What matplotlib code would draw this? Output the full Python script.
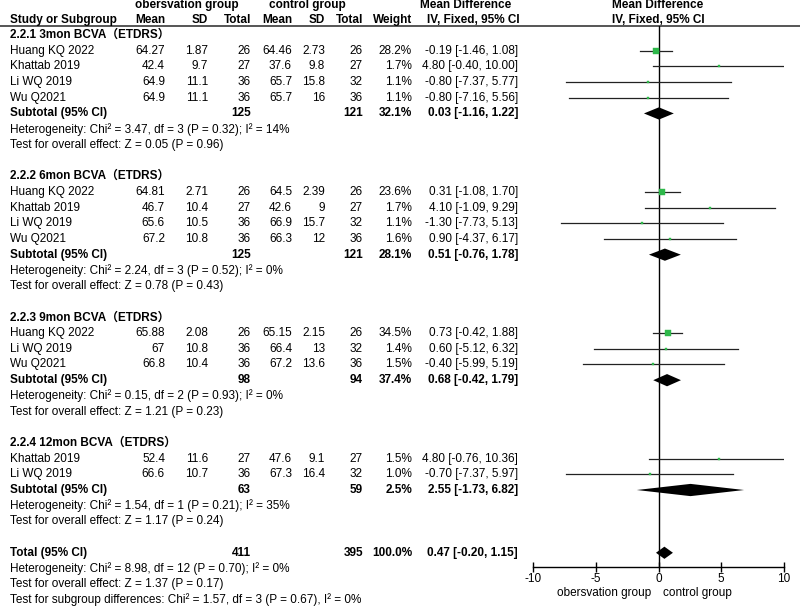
import matplotlib
matplotlib.use("Agg")
import matplotlib.pyplot as plt
from matplotlib.transforms import blended_transform_factory

plt.rcParams['font.family'] = ['Liberation Sans', 'Noto Sans CJK SC', 'DejaVu Sans']
plt.rcParams['font.size'] = 8.5

# ---- data ----
group_titles = ["2.2.1 3mon BCVA（ETDRS）", "2.2.2 6mon BCVA（ETDRS）",
                "2.2.3 9mon BCVA（ETDRS）", "2.2.4 12mon BCVA（ETDRS）"]
study_group = [0, 0, 0, 0, 1, 1, 1, 1, 2, 2, 2, 3, 3]
studies = ["Huang KQ 2022", "Khattab 2019", "Li WQ 2019", "Wu Q2021",
           "Huang KQ 2022", "Khattab 2019", "Li WQ 2019", "Wu Q2021",
           "Huang KQ 2022", "Li WQ 2019", "Wu Q2021",
           "Khattab 2019", "Li WQ 2019"]
obs_mean = [64.27, 42.4, 64.9, 64.9, 64.81, 46.7, 65.6, 67.2, 65.88, 67, 66.8, 52.4, 66.6]
obs_sd = [1.87, 9.7, 11.1, 11.1, 2.71, 10.4, 10.5, 10.8, 2.08, 10.8, 10.4, 11.6, 10.7]
obs_n = [26, 27, 36, 36, 26, 27, 36, 36, 26, 36, 36, 27, 36]
ctl_mean = [64.46, 37.6, 65.7, 65.7, 64.5, 42.6, 66.9, 66.3, 65.15, 66.4, 67.2, 47.6, 67.3]
ctl_sd = [2.73, 9.8, 15.8, 16, 2.39, 9, 15.7, 12, 2.15, 13, 13.6, 9.1, 16.4]
ctl_n = [26, 27, 32, 36, 26, 27, 32, 36, 26, 32, 36, 27, 32]
weight = [28.2, 1.7, 1.1, 1.1, 23.6, 1.7, 1.1, 1.6, 34.5, 1.4, 1.5, 1.5, 1.0]
md = [-0.19, 4.80, -0.80, -0.80, 0.31, 4.10, -1.30, 0.90, 0.73, 0.60, -0.40, 4.80, -0.70]
md_lo = [-1.46, -0.40, -7.37, -7.16, -1.08, -1.09, -7.73, -4.37, -0.42, -5.12, -5.99, -0.76, -7.37]
md_hi = [1.08, 10.00, 5.77, 5.56, 1.70, 9.29, 5.13, 6.17, 1.88, 6.32, 5.19, 10.36, 5.97]

sub_obs_n = [125, 125, 98, 63]
sub_ctl_n = [121, 121, 94, 59]
sub_weight = [32.1, 28.1, 37.4, 2.5]
sub_md = [0.03, 0.51, 0.68, 2.55]
sub_lo = [-1.16, -0.76, -0.42, -1.73]
sub_hi = [1.22, 1.78, 1.79, 6.82]
sub_het = ["Heterogeneity: Chi² = 3.47, df = 3 (P = 0.32); I² = 14%",
           "Heterogeneity: Chi² = 2.24, df = 3 (P = 0.52); I² = 0%",
           "Heterogeneity: Chi² = 0.15, df = 2 (P = 0.93); I² = 0%",
           "Heterogeneity: Chi² = 1.54, df = 1 (P = 0.21); I² = 35%"]
sub_test = ["Test for overall effect: Z = 0.05 (P = 0.96)",
            "Test for overall effect: Z = 0.78 (P = 0.43)",
            "Test for overall effect: Z = 1.21 (P = 0.23)",
            "Test for overall effect: Z = 1.17 (P = 0.24)"]

total_obs_n, total_ctl_n, total_weight = 411, 395, 100.0
total_md, total_lo, total_hi = 0.47, -0.20, 1.15
total_notes = ["Heterogeneity: Chi² = 8.98, df = 12 (P = 0.70); I² = 0%",
               "Test for overall effect: Z = 1.37 (P = 0.17)",
               "Test for subgroup differences: Chi² = 1.57, df = 3 (P = 0.67), I² = 0%"]

# ---- layout (pixels of an 800x606 canvas) ----
W, H = 800, 606
ROW0, ROWH = 35.0, 15.69
GREEN = '#2eb84a'

fig = plt.figure(figsize=(8, 6.06), dpi=100)
ax_t = fig.add_axes([0, 0, 1, 1])
ax_t.set_xlim(0, W)
ax_t.set_ylim((H - ROW0) / ROWH, -ROW0 / ROWH)
ax_t.axis('off')

px_top, px_axis = 26, 567
ax = fig.add_axes([533 / W, (H - px_axis) / H, (784 - 533) / W, (px_axis - px_top) / H])
ax.set_xlim(-10, 10)
ax.set_ylim((px_axis - ROW0) / ROWH, (px_top - ROW0) / ROWH)
ax.patch.set_alpha(0)
for s in ['top', 'left', 'right']:
    ax.spines[s].set_visible(False)
ax.spines['bottom'].set_linewidth(1.0)
ax.set_yticks([])
ax.set_xticks([-10, -5, 0, 5, 10])
ax.set_xticklabels(['-10', '-5', '0', '5', '10'])
ax.tick_params(axis='x', direction='inout', length=7, width=1, pad=1, labelsize=8.5)
ax.axvline(0, color='black', lw=1.0, zorder=1)

# column right edges
col_mean1, col_sd1, col_n1 = 165, 208, 251
col_mean2, col_sd2, col_n2 = 292, 325, 363
col_w, col_ci = 412, 518
x_name = 10


def txt(x, r, s, ha='right', bold=False):
    ax_t.text(x, r, s, ha=ha, va='center', fontweight='bold' if bold else 'normal')


def diamond(r, est, lo, hi):
    h = 0.39
    ax.fill([lo, est, hi, est], [r, r - h, r, r + h], color='black', lw=0, zorder=3)


# header
hy1, hy2 = (5 - ROW0) / ROWH, (20 - ROW0) / ROWH
txt(187, hy1, "obersvation group", ha='center', bold=True)
txt(307, hy1, "control group", ha='center', bold=True)
txt(466, hy1, "Mean Difference", ha='center', bold=True)
txt(658, hy1, "Mean Difference", ha='center', bold=True)
txt(x_name, hy2, "Study or Subgroup", ha='left', bold=True)
for x, s in [(col_mean1, "Mean"), (col_sd1, "SD"), (col_n1, "Total"),
             (col_mean2, "Mean"), (col_sd2, "SD"), (col_n2, "Total"), (col_w, "Weight")]:
    txt(x, hy2, s, bold=True)
txt(473, hy2, "IV, Fixed, 95% CI", ha='center', bold=True)
txt(658, hy2, "IV, Fixed, 95% CI", ha='center', bold=True)
ax_t.axhline((px_top - ROW0) / ROWH, color='#555555', lw=1.4)

# body
row = 0
for g, title in enumerate(group_titles):
    txt(x_name, row, title, ha='left', bold=True)
    row += 1
    for i, sg in enumerate(study_group):
        if sg != g:
            continue
        txt(x_name, row, studies[i], ha='left')
        txt(col_mean1, row, f"{obs_mean[i]:g}")
        txt(col_sd1, row, f"{obs_sd[i]:g}")
        txt(col_n1, row, f"{obs_n[i]}")
        txt(col_mean2, row, f"{ctl_mean[i]:g}")
        txt(col_sd2, row, f"{ctl_sd[i]:g}")
        txt(col_n2, row, f"{ctl_n[i]}")
        txt(col_w, row, f"{weight[i]:.1f}%")
        txt(col_ci, row, f"{md[i]:.2f} [{md_lo[i]:.2f}, {md_hi[i]:.2f}]")
        ax.plot([md_lo[i], md_hi[i]], [row, row], color='#222222', lw=0.9, zorder=2)
        ms = max(0.81 * weight[i] ** 0.5, 1.8)
        ax.plot(md[i], row, marker='s', ms=ms, color=GREEN, mec=GREEN, mew=0.3, zorder=4)
        row += 1
    txt(x_name, row, "Subtotal (95% CI)", ha='left', bold=True)
    txt(col_n1, row, f"{sub_obs_n[g]}", bold=True)
    txt(col_n2, row, f"{sub_ctl_n[g]}", bold=True)
    txt(col_w, row, f"{sub_weight[g]:.1f}%", bold=True)
    txt(col_ci, row, f"{sub_md[g]:.2f} [{sub_lo[g]:.2f}, {sub_hi[g]:.2f}]", bold=True)
    diamond(row, sub_md[g], sub_lo[g], sub_hi[g])
    row += 1
    txt(x_name, row, sub_het[g], ha='left')
    row += 1
    txt(x_name, row, sub_test[g], ha='left')
    row += 2

txt(x_name, row, "Total (95% CI)", ha='left', bold=True)
txt(col_n1, row, f"{total_obs_n}", bold=True)
txt(col_n2, row, f"{total_ctl_n}", bold=True)
txt(col_w, row, f"{total_weight:.1f}%", bold=True)
txt(col_ci, row, f"{total_md:.2f} [{total_lo:.2f}, {total_hi:.2f}]", bold=True)
diamond(row, total_md, total_lo, total_hi)
for note in total_notes:
    row += 1
    txt(x_name, row, note, ha='left')

# favours labels under the axis
tr = blended_transform_factory(ax.transData, ax.transAxes)
ax.text(-0.55, -0.048, "obersvation group", ha='right', va='center', transform=tr)
ax.text(0.35, -0.048, "control group", ha='left', va='center', transform=tr)

fig.savefig("out.png", dpi=100)
